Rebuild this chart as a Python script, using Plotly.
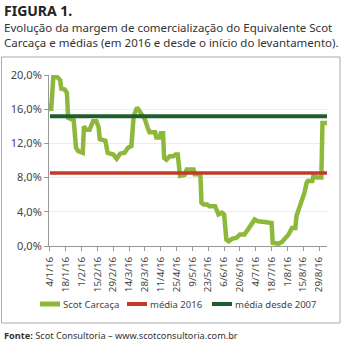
import plotly.graph_objects as go

# ---- data ----
dates = ["2016-01-04","2016-01-05","2016-01-07","2016-01-11","2016-01-13","2016-01-14","2016-01-17",
         "2016-01-19","2016-01-20","2016-01-25","2016-01-27","2016-01-29","2016-02-02","2016-02-03",
         "2016-02-05","2016-02-08","2016-02-11","2016-02-14","2016-02-16","2016-02-17","2016-02-22",
         "2016-02-24","2016-02-29","2016-03-03","2016-03-06","2016-03-10","2016-03-13","2016-03-16",
         "2016-03-18","2016-03-21","2016-03-25","2016-03-28","2016-03-31","2016-04-01","2016-04-06",
         "2016-04-07","2016-04-10","2016-04-11","2016-04-13","2016-04-14","2016-04-16","2016-04-19",
         "2016-04-22","2016-04-24","2016-04-26","2016-04-27","2016-04-28","2016-05-02","2016-05-04",
         "2016-05-10","2016-05-11","2016-05-16","2016-05-17","2016-05-19","2016-05-22","2016-05-24",
         "2016-05-29","2016-06-01","2016-06-04","2016-06-06","2016-06-08","2016-06-10","2016-06-13",
         "2016-06-17","2016-06-20","2016-06-24","2016-06-27","2016-06-30","2016-07-03","2016-07-06",
         "2016-07-12","2016-07-18","2016-07-19","2016-07-24","2016-07-27","2016-07-30","2016-08-02",
         "2016-08-05","2016-08-08","2016-08-09","2016-08-12","2016-08-15","2016-08-16","2016-08-18",
         "2016-08-19","2016-08-23","2016-08-24","2016-08-27","2016-08-31","2016-09-01","2016-09-05"]
scot_carcaca = [16.7,15.8,19.9,19.7,19.4,18.4,18.3,17.9,15.0,14.7,11.5,11.1,10.9,14.0,
                13.6,13.6,14.6,14.6,13.9,12.5,12.3,10.9,10.7,10.2,10.8,10.9,11.5,11.7,
                15.2,16.2,15.4,14.8,13.6,13.3,13.3,12.7,12.7,13.2,13.2,10.3,10.1,10.5,
                10.5,10.7,10.7,8.6,8.2,8.3,8.95,8.95,8.4,8.4,5.05,4.85,4.85,4.66,
                4.66,3.7,3.9,3.7,0.76,0.56,0.84,0.96,1.35,1.35,1.85,2.5,3.1,2.9,
                2.8,2.7,0.37,0.26,0.45,0.96,1.35,2.1,2.1,3.5,4.66,5.44,6.2,7.4,
                7.6,7.6,8.2,8.0,8.0,14.4,14.4]
media_2016 = 8.55
media_desde_2007 = 15.18

series_names = ["Scot Carcaça", "média 2016", "média desde 2007"]
series_colors = ["#8db83a", "#c23b2a", "#1e5e2e"]

y_ticks = [0, 4, 8, 12, 16, 20]
y_labels = ["0,0%", "4,0%", "8,0%", "12,0%", "16,0%", "20,0%"]
x_ticks = ["2016-01-04","2016-01-18","2016-02-01","2016-02-15","2016-02-29","2016-03-14",
           "2016-03-28","2016-04-11","2016-04-25","2016-05-09","2016-05-23","2016-06-06",
           "2016-06-20","2016-07-04","2016-07-18","2016-08-01","2016-08-15","2016-08-29"]
x_labels = ["4/1/16","18/1/16","1/2/16","15/2/16","29/2/16","14/3/16","28/3/16","11/4/16",
            "25/4/16","9/5/16","23/5/16","6/6/16","20/6/16","4/7/16","18/7/16","1/8/16",
            "15/8/16","29/8/16"]

FONT = "Noto Sans"
fig = go.Figure()
fig.add_trace(go.Scatter(x=dates, y=scot_carcaca, mode="lines", name=series_names[0],
                         line=dict(color=series_colors[0], width=4.5), showlegend=False))
fig.add_trace(go.Scatter(x=[dates[0], dates[-1]], y=[media_2016, media_2016], mode="lines",
                         name=series_names[1], line=dict(color=series_colors[1], width=3.5),
                         showlegend=False))
fig.add_trace(go.Scatter(x=[dates[0], dates[-1]], y=[media_desde_2007, media_desde_2007], mode="lines",
                         name=series_names[2], line=dict(color=series_colors[2], width=4),
                         showlegend=False))

W, H = 344, 342
L, R, T, B = 49, 17, 75, 96
pw, ph = W - L - R, H - T - B
def px(x): return (x - L) / pw
def py(y): return (H - B - y) / ph

shapes = [dict(type="rect", xref="paper", yref="paper",
               x0=px(1.5), x1=px(340), y0=py(323), y1=py(57),
               line=dict(color="#aaa", width=1), fillcolor="rgba(0,0,0,0)", layer="below")]
annotations = [
    dict(text="<b>FIGURA 1.</b>", xref="paper", yref="paper", x=px(2), y=py(10),
         xanchor="left", yanchor="middle", showarrow=False,
         font=dict(size=14, color="#222", family=FONT)),
    dict(text="Evolução da margem de comercialização do Equivalente Scot",
         xref="paper", yref="paper", x=px(2), y=py(27), xanchor="left", yanchor="middle",
         showarrow=False, font=dict(size=11.5, color="#333", family=FONT)),
    dict(text="Carcaça e médias (em 2016 e desde o início do levantamento).",
         xref="paper", yref="paper", x=px(2), y=py(42), xanchor="left", yanchor="middle",
         showarrow=False, font=dict(size=11.5, color="#333", family=FONT)),
    dict(text="<b>Fonte:</b> Scot Consultoria – www.scotconsultoria.com.br",
         xref="paper", yref="paper", x=px(2), y=py(335), xanchor="left", yanchor="middle",
         showarrow=False, font=dict(size=9.2, color="#333", family=FONT)),
]
# manual legend
leg_x = [40, 127, 212]
leg_w = [5, 4, 4]
for name, col, x0, lw in zip(series_names, series_colors, leg_x, leg_w):
    shapes.append(dict(type="line", xref="paper", yref="paper", x0=px(x0), x1=px(x0 + 20),
                       y0=py(304), y1=py(304), line=dict(color=col, width=lw)))
    annotations.append(dict(text=name, xref="paper", yref="paper", x=px(x0 + 21), y=py(304),
                            xanchor="left", yanchor="middle", showarrow=False,
                            font=dict(size=9.5, color="#444", family=FONT)))

fig.update_layout(
    width=W, height=H, margin=dict(l=L, r=R, t=T, b=B),
    paper_bgcolor="white", plot_bgcolor="white",
    font=dict(family=FONT, color="#444", size=11),
    showlegend=False,
    xaxis=dict(type="date", range=["2016-01-03 03:00", "2016-09-05"],
               tickvals=x_ticks, ticktext=x_labels, tickangle=-90,
               tickfont=dict(size=9.8, color="#444"), showgrid=False,
               showline=True, linecolor="#999", linewidth=1,
               ticks="outside", ticklen=4, tickcolor="#999", ticklabelstandoff=2),
    yaxis=dict(range=[0, 20], tickvals=y_ticks, ticktext=y_labels,
               tickfont=dict(size=11, color="#444"), showgrid=True, gridcolor="#ececec",
               gridwidth=1, zeroline=False, showline=True, linecolor="#999", linewidth=1,
               ticks="outside", ticklen=4, tickcolor="#999"),
    shapes=shapes,
    annotations=annotations,
)

fig.write_html("out.html")
